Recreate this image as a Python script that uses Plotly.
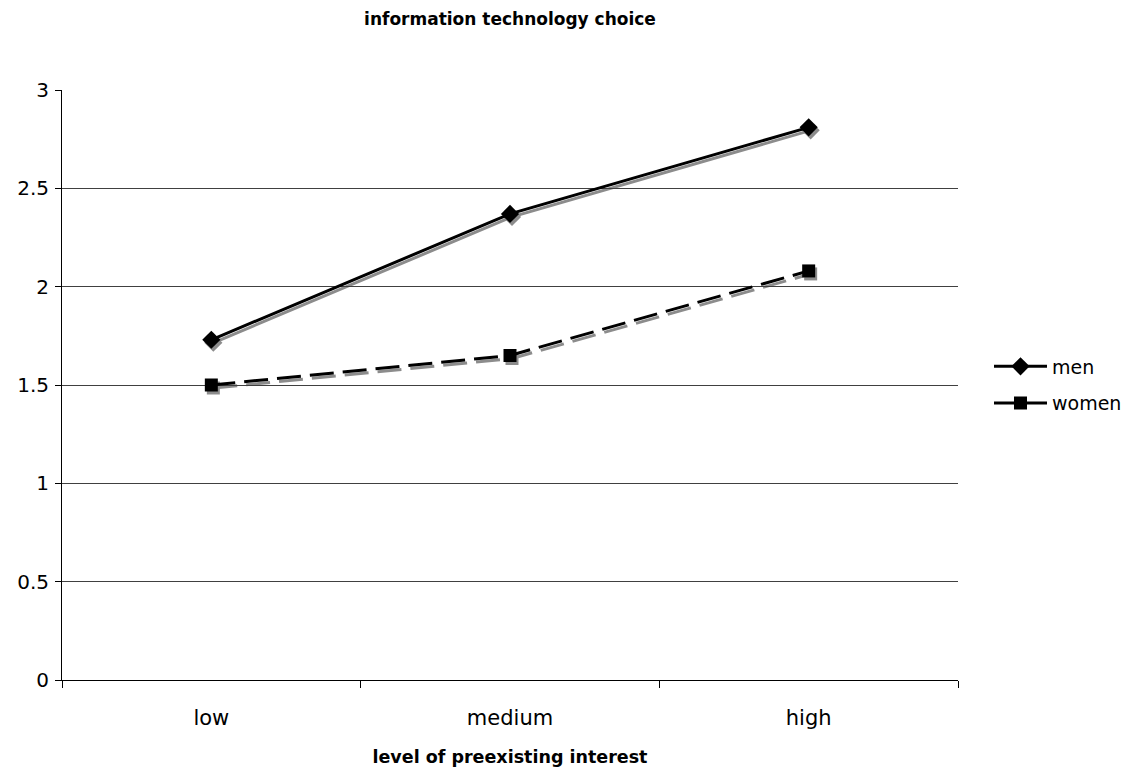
import plotly.graph_objects as go

categories = ["low", "medium", "high"]
men = [1.73, 2.37, 2.81]
women = [1.50, 1.65, 2.08]
series_names = ["men", "women"]
y_ticks = [0, 0.5, 1, 1.5, 2, 2.5, 3]
y_tick_text = ["0", "0.5", "1", "1.5", "2", "2.5", "3"]

# page body has an 8px margin, so the figure is sized to fit the window
W, H = 1120, 759
ml, mt = 54, 82
pw, ph = 898, 593
mr = W - ml - pw
mb = H - mt - ph
dx, dy = 2, 3

FONT = "DejaVu Sans, Verdana, sans-serif"
shadow = "#8c8c8c"
dash_pat = "24px,9px"

fig = go.Figure()

# shadow traces on hidden, slightly offset axes (drawn first, underneath)
fig.add_trace(go.Scatter(x=categories, y=men, xaxis="x", yaxis="y", mode="lines+markers",
                         line=dict(color=shadow, width=3), marker=dict(symbol="diamond", size=14, color=shadow),
                         showlegend=False, hoverinfo="skip"))
fig.add_trace(go.Scatter(x=categories, y=women, xaxis="x", yaxis="y", mode="lines+markers",
                         line=dict(color=shadow, width=3, dash=dash_pat),
                         marker=dict(symbol="square", size=13, color=shadow),
                         showlegend=False, hoverinfo="skip"))

# main traces on visible axes
fig.add_trace(go.Scatter(x=categories, y=men, name=series_names[0], xaxis="x2", yaxis="y2",
                         mode="lines+markers", legendgroup="a",
                         line=dict(color="black", width=3), marker=dict(symbol="diamond", size=14, color="black")))
fig.add_trace(go.Scatter(x=categories, y=women, name=series_names[1], xaxis="x2", yaxis="y2",
                         mode="lines+markers", legendgroup="b",
                         line=dict(color="black", width=3, dash=dash_pat),
                         marker=dict(symbol="square", size=13, color="black")))

fig.update_layout(
    width=W, height=H,
    margin=dict(l=ml, r=mr, t=mt, b=mb, autoexpand=False),
    plot_bgcolor="rgba(0,0,0,0)", paper_bgcolor="white",
    font=dict(family=FONT, color="black"),
    title=dict(text="<b>information technology choice</b>", x=502 / W, xanchor="center",
               y=1 - 11 / H, yanchor="middle", font=dict(size=17, family=FONT, color="black")),
    xaxis=dict(domain=[dx / pw, 1], type="category", range=[-0.5, 2.5], visible=False,
               anchor="y", showgrid=False),
    yaxis=dict(domain=[0, 1 - dy / ph], range=[0, 3], visible=False, anchor="x", showgrid=False),
    xaxis2=dict(domain=[0, (pw - dx) / pw], type="category", range=[-0.5, 2.5], tickson="boundaries",
                ticks="outside", ticklen=7, tickcolor="black", showline=True, linecolor="black", linewidth=1,
                showgrid=False, tickfont=dict(size=21), anchor="y2", ticklabelstandoff=19,
                title=dict(text="<b>level of preexisting interest</b>", font=dict(size=17.5), standoff=22)),
    yaxis2=dict(domain=[dy / ph, 1], range=[0, 3], tickvals=y_ticks, ticktext=y_tick_text,
                ticks="outside", ticklen=6, tickcolor="black", showline=True, linecolor="black", linewidth=1,
                showgrid=True, gridcolor="#404040", gridwidth=1, zeroline=False, tickfont=dict(size=20),
                anchor="x2", ticklabelstandoff=2),
    legend=dict(x=(981 - ml) / pw, y=(H - mb - 377) / ph, xanchor="left", yanchor="middle",
                font=dict(size=19), bgcolor="rgba(0,0,0,0)", tracegroupgap=9, traceorder="grouped",
                itemwidth=53),
    showlegend=True,
)

fig.write_html("out.html")
